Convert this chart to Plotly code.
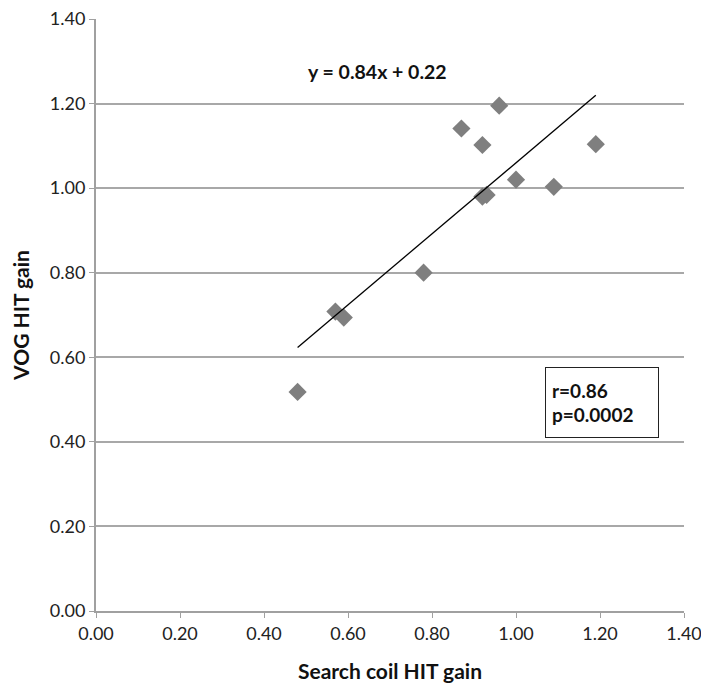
import plotly.graph_objects as go

search_coil_gain = [0.48, 0.57, 0.59, 0.78, 0.87, 0.92, 0.96, 0.92, 0.93, 1.00, 1.09, 1.19]
vog_gain = [0.518, 0.708, 0.694, 0.800, 1.141, 1.102, 1.195, 0.980, 0.984, 1.020, 1.003, 1.104]
slope = 0.84
intercept = 0.22
fit_x = [0.48, 1.19]
fit_y = [slope * x + intercept for x in fit_x]
tick_vals = [0.0, 0.2, 0.4, 0.6, 0.8, 1.0, 1.2, 1.4]
tick_text = ["0.00", "0.20", "0.40", "0.60", "0.80", "1.00", "1.20", "1.40"]

font_family = "Lato, Liberation Sans, Arial, sans-serif"

fig = go.Figure()
fig.add_trace(go.Scatter(
    x=search_coil_gain, y=vog_gain, mode="markers",
    marker=dict(symbol="diamond", size=14, color="#7f7f7f"),
    showlegend=False, cliponaxis=False))
fig.add_trace(go.Scatter(
    x=fit_x, y=fit_y, mode="lines",
    line=dict(color="black", width=1.3), showlegend=False))

fig.add_annotation(x=0.67, y=1.275, xref="x", yref="y", text="<b>y = 0.84x + 0.22</b>",
                   showarrow=False, font=dict(family=font_family, size=19.5, color="#111"))
fig.add_annotation(x=1.205, y=0.577, xref="x", yref="y",
                   text="<b>r=0.86</b><br><b>p=0.0002</b>", align="left",
                   showarrow=False, font=dict(family=font_family, size=19, color="#111"),
                   bordercolor="#222", borderwidth=1, borderpad=6, bgcolor="white",
                   xanchor="center", yanchor="top", width=100, height=57)

axis_common = dict(
    tickvals=tick_vals, ticktext=tick_text, range=[0, 1.4],
    showline=True, linecolor="#a0a0a0", linewidth=2,
    ticks="outside", tickcolor="#a0a0a0", ticklen=5, tickwidth=1,
    tickfont=dict(family=font_family, size=18, color="#222"),
    zeroline=False, automargin=False, ticklabeloverflow="allow",
)
fig.update_xaxes(**axis_common, showgrid=False,
                 title=dict(text="<b>Search coil HIT gain</b>",
                            font=dict(family=font_family, size=21, color="#111"), standoff=22))
fig.update_yaxes(**axis_common, showgrid=True, gridcolor="#a8a8a8", gridwidth=1.5,
                 title=dict(text="<b>VOG HIT gain</b>",
                            font=dict(family=font_family, size=21, color="#111"), standoff=16))

fig.update_layout(
    width=701, height=685,
    margin=dict(l=88, r=25, t=11, b=82),
    plot_bgcolor="white", paper_bgcolor="white",
)
fig.write_html("out.html")
